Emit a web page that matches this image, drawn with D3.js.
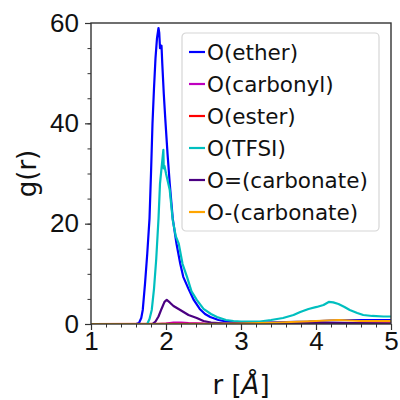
<!DOCTYPE html>
<html>
<head>
<meta charset="utf-8">
<script src="https://cdn.jsdelivr.net/npm/d3@7"></script>
<style>
  body { margin: 0; background: #fff; }
  svg { font-family: "DejaVu Sans", sans-serif; }
  .axis path, .axis line { stroke: #333; }
  .axis text { fill: #111; font-size: 26px; }
</style>
</head>
<body>
<div id="chart"></div>
<script>
// Data
var seriesNames = ["O(ether)", "O(carbonyl)", "O(ester)", "O(TFSI)", "O=(carbonate)", "O-(carbonate)"];
var seriesColors = ["#0000ff", "#bf00bf", "#ff0000", "#00bfbf", "#4b0082", "#ffa500"];

var etherR = [1.0, 1.6, 1.64, 1.67, 1.69, 1.72, 1.75, 1.78, 1.80, 1.82, 1.84, 1.86, 1.88, 1.90, 1.91, 1.92, 1.94, 1.95, 1.97, 1.99, 2.02, 2.05, 2.09, 2.14, 2.19, 2.23, 2.30, 2.37, 2.45, 2.52, 2.59, 2.70, 2.80, 3.0, 3.3, 3.6, 3.9, 4.2, 4.5, 4.8, 5.0];
var etherG = [0, 0, 0.2, 1.2, 2.8, 8, 14, 21, 30, 40, 47, 53, 57, 59, 58, 55, 55.5, 52, 46, 41, 34, 28, 21, 16, 12, 9.4, 7, 4.8, 3, 2, 1.4, 0.8, 0.5, 0.3, 0.3, 0.4, 0.5, 0.7, 0.8, 0.8, 0.8];

var carbonylR = [1.0, 1.9, 2.0, 2.1, 2.2, 2.3, 2.5, 3.0, 4.0, 5.0];
var carbonylG = [0, 0, 0.1, 0.3, 0.3, 0.2, 0.1, 0.05, 0.1, 0.1];

var esterR = [1.0, 2.0, 3.0, 4.0, 4.5, 5.0];
var esterG = [0, 0.05, 0.02, 0.05, 0.1, 0.1];

var tfsiR = [1.0, 1.75, 1.78, 1.81, 1.84, 1.87, 1.90, 1.92, 1.94, 1.965, 1.97, 1.98, 2.0, 2.05, 2.09, 2.13, 2.17, 2.22, 2.28, 2.34, 2.41, 2.5, 2.6, 2.68, 2.8, 2.9, 3.0, 3.1, 3.25, 3.4, 3.56, 3.7, 3.79, 3.9, 4.01, 4.1, 4.17, 4.23, 4.3, 4.38, 4.45, 4.55, 4.63, 4.75, 4.9, 5.0];
var tfsiG = [0, 0, 1, 2.8, 7, 13, 21, 28, 31, 34.7, 31, 31.5, 30, 26.7, 20.7, 17.5, 16, 12, 9.4, 6.5, 4.8, 3, 2, 1.4, 0.8, 0.6, 0.5, 0.5, 0.5, 0.8, 1.2, 1.8, 2.4, 3.0, 3.4, 3.8, 4.4, 4.3, 4.0, 3.4, 2.8, 2.2, 1.8, 1.6, 1.5, 1.5];

var carbEqR = [1.0, 1.82, 1.86, 1.90, 1.94, 1.98, 2.01, 2.05, 2.10, 2.19, 2.30, 2.41, 2.50, 2.60, 2.80, 3.5, 4.0, 4.5, 5.0];
var carbEqG = [0, 0, 0.5, 1.5, 3, 4.4, 4.8, 4.3, 3.6, 2.8, 1.8, 1.2, 0.6, 0.3, 0.1, 0.1, 0.2, 0.2, 0.1];

var carbMinR = [1.0, 2.5, 3.0, 3.5, 4.0, 4.3, 4.6, 5.0];
var carbMinG = [0, 0, 0.1, 0.3, 0.6, 0.8, 0.6, 0.6];

var seriesR = [etherR, carbonylR, esterR, tfsiR, carbEqR, carbMinR];
var seriesG = [etherG, carbonylG, esterG, tfsiG, carbEqG, carbMinG];

var xTicks = [1, 2, 3, 4, 5];
var yTicks = [0, 20, 40, 60];

var render = function() {
  var width = 400;
  var height = 400;
  var margins = { top: 23, right: 9, bottom: 76, left: 91 };
  var chartWidth = width - margins.left - margins.right;
  var chartHeight = height - margins.top - margins.bottom;

  var svg = d3.select("#chart")
    .append("svg")
    .attr("width", width)
    .attr("height", height);

  var chartElement = svg.append("g")
    .attr("transform", `translate(${margins.left},${margins.top})`);

  var xScale = d3.scaleLinear().domain([1, 5]).range([0, chartWidth]);
  var yScale = d3.scaleLinear().domain([0, 60]).range([chartHeight, 0]);

  svg.append("defs").append("clipPath").attr("id", "plot-clip")
    .append("rect").attr("width", chartWidth).attr("height", chartHeight);

  // Minor ticks
  chartElement.append("g")
    .attr("class", "axis")
    .attr("transform", `translate(0,${chartHeight})`)
    .call(d3.axisBottom(xScale).tickValues(d3.range(1, 5.01, 0.2)).tickSize(3.5).tickFormat(""))
    .select(".domain").remove();
  chartElement.append("g")
    .attr("class", "axis")
    .call(d3.axisLeft(yScale).tickValues(d3.range(0, 61, 5)).tickSize(3.5).tickFormat(""))
    .select(".domain").remove();

  // Major ticks
  var xAxis = chartElement.append("g")
    .attr("class", "axis")
    .attr("transform", `translate(0,${chartHeight})`)
    .call(d3.axisBottom(xScale).tickValues(xTicks).tickSize(6).tickPadding(2).tickFormat(d3.format("d")));
  xAxis.select(".domain").remove();
  xAxis.selectAll("line").attr("stroke-width", 1.2);

  var yAxis = chartElement.append("g")
    .attr("class", "axis")
    .call(d3.axisLeft(yScale).tickValues(yTicks).tickSize(6).tickPadding(6));
  yAxis.select(".domain").remove();
  yAxis.selectAll("line").attr("stroke-width", 1.2);

  // Lines
  var line = d3.line()
    .x(d => xScale(d[0]))
    .y(d => yScale(d[1]));

  var lines = chartElement.append("g").attr("clip-path", "url(#plot-clip)");
  seriesNames.forEach(function(name, i) {
    lines.append("path")
      .datum(d3.zip(seriesR[i], seriesG[i]))
      .attr("fill", "none")
      .attr("stroke", seriesColors[i])
      .attr("stroke-width", 2.2)
      .attr("stroke-linejoin", "round")
      .attr("d", line);
  });

  // Frame
  chartElement.append("rect")
    .attr("width", chartWidth)
    .attr("height", chartHeight)
    .attr("fill", "none")
    .attr("stroke", "#333")
    .attr("stroke-width", 1.4);

  // Axis labels
  var xLabel = svg.append("text")
    .attr("x", margins.left + chartWidth / 2)
    .attr("y", 394)
    .attr("text-anchor", "middle")
    .attr("font-size", 26)
    .attr("fill", "#111");
  xLabel.append("tspan").text("r [");
  xLabel.append("tspan").attr("font-style", "italic").text("Å");
  xLabel.append("tspan").text("]");

  svg.append("text")
    .attr("transform", `translate(36,${margins.top + chartHeight / 2}) rotate(-90)`)
    .attr("text-anchor", "middle")
    .attr("font-size", 26)
    .attr("fill", "#111")
    .text("g(r)");

  // Legend
  var legend = svg.append("g").attr("transform", "translate(182,33)");
  legend.append("rect")
    .attr("width", 197)
    .attr("height", 198)
    .attr("rx", 4)
    .attr("fill", "#fff")
    .attr("stroke", "#d6d6d6")
    .attr("stroke-width", 1.2);

  var items = legend.selectAll("g.item")
    .data(seriesNames)
    .enter()
    .append("g")
    .attr("class", "item")
    .attr("transform", (d, i) => `translate(0,${19 + i * 32})`);

  items.append("line")
    .attr("x1", 7)
    .attr("x2", 23)
    .attr("stroke", (d, i) => seriesColors[i])
    .attr("stroke-width", 2.2);

  items.append("text")
    .attr("x", 25)
    .attr("dy", "0.36em")
    .attr("font-size", 21.5)
    .attr("fill", "#111")
    .text(d => d);
};

window.onload = render;
</script>
</body>
</html>
